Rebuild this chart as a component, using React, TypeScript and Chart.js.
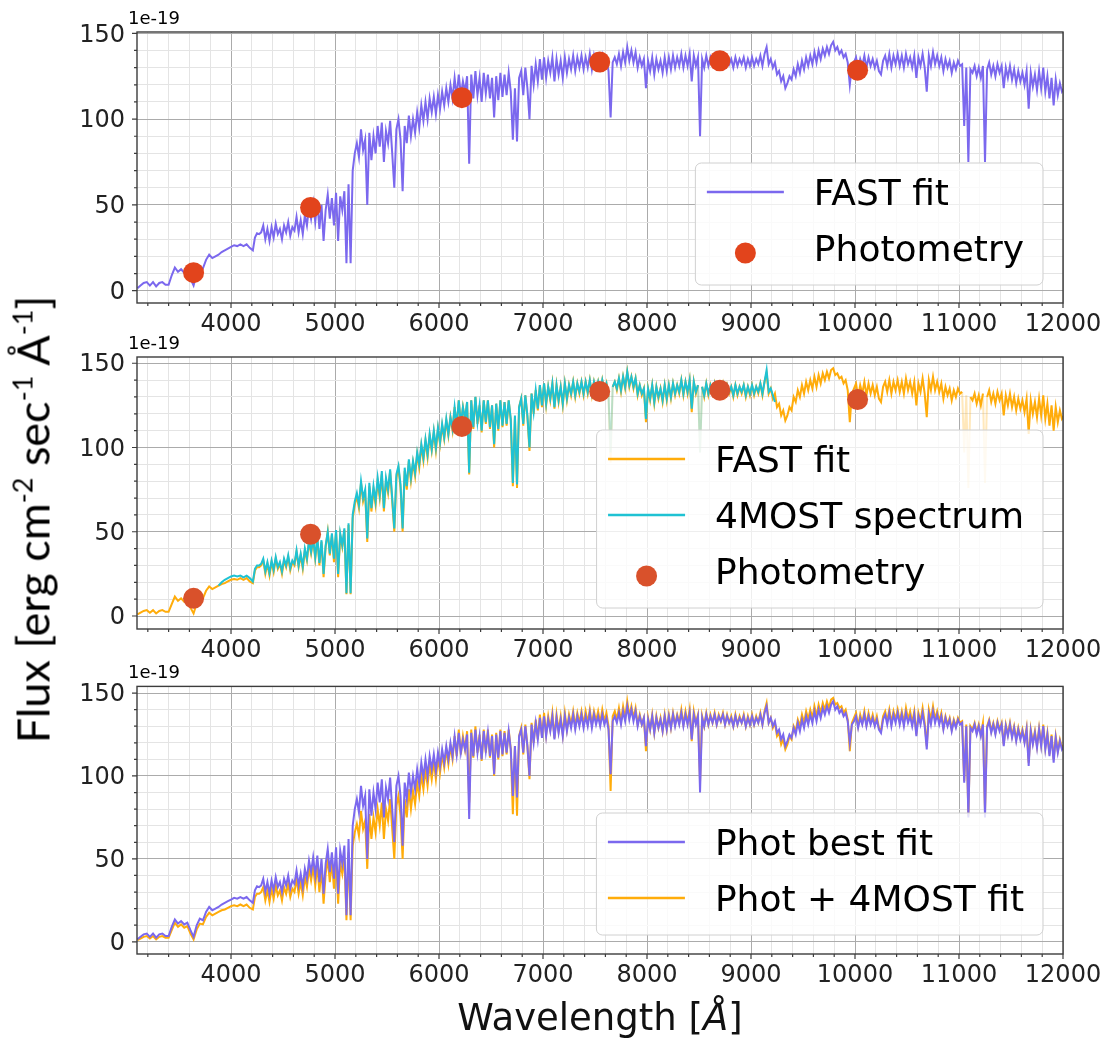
import { useEffect, useRef } from 'react';
import { Chart, registerables } from 'chart.js';

Chart.register(...registerables);

// ---------------- data ----------------
// wavelength grid in Angstrom (30 A steps in the smooth blue part, 20 A beyond)
const WAVELENGTH = [
  3100, 3130, 3160, 3190, 3220, 3250, 3280, 3310, 3340, 3370,
  3400, 3430, 3460, 3490, 3520, 3550, 3580, 3610, 3640, 3670,
  3700, 3730, 3760, 3790, 3820, 3850, 3880, 3910, 3940, 3970,
  4000, 4030, 4060, 4090, 4120, 4150, 4180,
  4210, 4230, 4250, 4270, 4290, 4310, 4330, 4350, 4370, 4390,
  4410, 4430, 4450, 4470, 4490, 4510, 4530, 4550, 4570, 4590,
  4610, 4630, 4650, 4670, 4690, 4710, 4730, 4750, 4770, 4790,
  4810, 4830, 4850, 4870, 4890, 4910, 4930, 4950, 4970, 4990,
  5010, 5030, 5050, 5070, 5090, 5110, 5130, 5150, 5170, 5190,
  5210, 5230, 5250, 5270, 5290, 5310, 5330, 5350, 5370, 5390,
  5410, 5430, 5450, 5470, 5490, 5510, 5530, 5550, 5570, 5590,
  5610, 5630, 5650, 5670, 5690, 5710, 5730, 5750, 5770, 5790,
  5810, 5830, 5850, 5870, 5890, 5910, 5930, 5950, 5970, 5990,
  6010, 6030, 6050, 6070, 6090, 6110, 6130, 6150, 6170, 6190,
  6210, 6230, 6250, 6270, 6290, 6310, 6330, 6350, 6370, 6390,
  6410, 6430, 6450, 6470, 6490, 6510, 6530, 6550, 6570, 6590,
  6610, 6630, 6650, 6670, 6690, 6710, 6730, 6750, 6770, 6790,
  6810, 6830, 6850, 6870, 6890, 6910, 6930, 6950, 6970, 6990,
  7010, 7030, 7050, 7070, 7090, 7110, 7130, 7150, 7170, 7190,
  7210, 7230, 7250, 7270, 7290, 7310, 7330, 7350, 7370, 7390,
  7410, 7430, 7450, 7470, 7490, 7510, 7530, 7550, 7570, 7590,
  7610, 7630, 7650, 7670, 7690, 7710, 7730, 7750, 7770, 7790,
  7810, 7830, 7850, 7870, 7890, 7910, 7930, 7950, 7970, 7990,
  8010, 8030, 8050, 8070, 8090, 8110, 8130, 8150, 8170, 8190,
  8210, 8230, 8250, 8270, 8290, 8310, 8330, 8350, 8370, 8390,
  8410, 8430, 8450, 8470, 8490, 8510, 8530, 8550, 8570, 8590,
  8610, 8630, 8650, 8670, 8690, 8710, 8730, 8750, 8770, 8790,
  8810, 8830, 8850, 8870, 8890, 8910, 8930, 8950, 8970, 8990,
  9010, 9030, 9050, 9070, 9090, 9110, 9130, 9150, 9170, 9190,
  9210, 9230, 9250, 9270, 9290, 9310, 9330, 9350, 9370, 9390,
  9410, 9430, 9450, 9470, 9490, 9510, 9530, 9550, 9570, 9590,
  9610, 9630, 9650, 9670, 9690, 9710, 9730, 9750, 9770, 9790,
  9810, 9830, 9850, 9870, 9890, 9910, 9930, 9950, 9970, 9990,
  10010, 10030, 10050, 10070, 10090, 10110, 10130, 10150, 10170, 10190,
  10210, 10230, 10250, 10270, 10290, 10310, 10330, 10350, 10370, 10390,
  10410, 10430, 10450, 10470, 10490, 10510, 10530, 10550, 10570, 10590,
  10610, 10630, 10650, 10670, 10690, 10710, 10730, 10750, 10770, 10790,
  10810, 10830, 10850, 10870, 10890, 10910, 10930, 10950, 10970, 10990,
  11010, 11030, 11050, 11070, 11090, 11110, 11130, 11150, 11170, 11190,
  11210, 11230, 11250, 11270, 11290, 11310, 11330, 11350, 11370, 11390,
  11410, 11430, 11450, 11470, 11490, 11510, 11530, 11550, 11570, 11590,
  11610, 11630, 11650, 11670, 11690, 11710, 11730, 11750, 11770, 11790,
  11810, 11830, 11850, 11870, 11890, 11910, 11930, 11950, 11970, 11990,
  12010,
];

// FAST fit to photometry only (purple), units of 1e-19
const PHOT_BEST_FIT = [
  1.5, 3, 4.5, 5, 3, 5, 2.5, 4.5, 5, 3.5,
  3.5, 9, 13.5, 11, 12.5, 10.5, 11.5, 7, 3, 10,
  14, 13, 18, 21, 19, 20, 21, 22.5, 23.5, 24.5,
  25.5, 26.5, 26, 27, 26, 27, 25,
  23.5, 31, 33.5, 33, 34, 38, 30, 36, 29, 37,
  31, 39, 33, 36, 30, 38, 34, 40, 32, 37,
  35, 43, 34, 41, 33, 44, 38, 49, 42, 51,
  40, 52, 36, 50, 29, 47, 56, 42, 54, 38,
  57, 29, 55, 47, 58, 16, 62, 16, 70, 80,
  86, 78, 94, 82, 88, 50, 92, 76, 90, 80,
  96, 84, 98, 75, 93, 86, 99, 80, 60, 94,
  100, 88, 58, 96, 86, 102, 90, 100, 92, 104,
  95, 108, 99, 110, 100, 112, 104, 113, 103, 114,
  106, 116, 108, 118, 110, 120, 112, 124, 113, 126,
  114, 122, 116, 125, 74, 126, 112, 128, 114, 124,
  110, 127, 115, 126, 112, 124, 101, 125, 111, 127,
  113, 126, 114, 127, 116, 88, 118, 87, 124, 128,
  114, 130, 118, 100, 131, 120, 132, 122, 135, 123,
  136, 124, 134, 127, 136, 122, 135, 126, 134, 124,
  136, 127, 135, 129, 137, 128, 136, 130, 137, 129,
  136, 130, 138, 129, 137, 131, 136, 130, 137, 131,
  135, 128, 101, 133, 136, 132, 138, 131, 139, 133,
  142, 134, 140, 133, 139, 130, 136, 131, 135, 118,
  134, 128, 136, 126, 135, 129, 134, 127, 136, 128,
  136, 129, 137, 130, 136, 131, 138, 130, 137, 131,
  138, 122, 137, 131, 136, 90, 135, 130, 137, 131,
  136, 132, 137, 131, 136, 133, 137, 131, 136, 132,
  135, 130, 136, 131, 135, 132, 136, 130, 135, 131,
  136, 131, 135, 132, 137, 131, 138, 142, 132, 135,
  130, 133, 126, 128, 122, 125, 118, 121, 125, 123,
  129, 125, 132, 127, 134, 129, 136, 131, 137, 132,
  139, 133, 140, 135, 141, 137, 142, 138, 143, 145,
  140, 142, 138, 140, 136, 138, 133, 120, 131, 133,
  136, 129, 135, 131, 137, 130, 136, 131, 135, 130,
  134, 128, 126, 134, 137, 131, 138, 130, 137, 132,
  138, 131, 137, 130, 138, 132, 136, 130, 137, 124,
  136, 131, 138, 130, 116, 137, 131, 139, 132, 137,
  131, 136, 128, 135, 130, 134, 127, 133, 129, 134,
  131, 132, 96, 130, 75, 129, 127, 131, 125, 130,
  124, 131, 75, 129, 133, 126, 131, 125, 132, 127,
  131, 118, 130, 124, 131, 123, 129, 121, 128, 122,
  127, 120, 128, 106, 127, 119, 126, 117, 128, 118,
  130, 116, 125, 112, 124, 108, 123, 114, 121, 116,
  118,
];

// FAST fit to photometry + 4MOST spectrum (orange)
const PHOT_4MOST_FIT = [
  1, 2, 3, 3.5, 2, 3.5, 1.5, 3, 3.5, 2.5,
  2.5, 7, 11.5, 9, 10.5, 8.5, 9.5, 5, 1.5, 7.5,
  11, 10.5, 15, 17.5, 16, 17, 18, 19, 19.5, 20.5,
  21.5, 22, 21.5, 22.5, 21.5, 22.5, 20.5,
  19.5, 27, 29, 29, 30, 33, 25, 31, 24, 32,
  26, 34, 28, 31, 25, 33, 29, 35, 27, 32,
  30, 38, 29, 36, 28, 39, 33, 44, 37, 45,
  34, 46, 30, 44, 23, 41, 50, 36, 48, 32,
  50, 23, 48, 41, 51, 13, 54, 13, 58, 66,
  71, 64, 79, 68, 73, 44, 77, 62, 75, 66,
  80, 70, 84, 62, 80, 73, 86, 68, 50, 82,
  88, 76, 50, 86, 75, 92, 80, 91, 83, 96,
  88, 101, 92, 104, 94, 107, 98, 109, 98, 111,
  102, 113, 105, 116, 107, 118, 110, 124, 112, 128,
  113, 124, 116, 127, 84, 128, 111, 130, 114, 125,
  109, 128, 114, 128, 111, 125, 100, 126, 110, 128,
  112, 127, 113, 128, 116, 77, 118, 76, 124, 129,
  113, 131, 118, 98, 132, 120, 134, 122, 137, 124,
  138, 125, 136, 128, 138, 123, 137, 127, 136, 125,
  138, 128, 137, 131, 139, 130, 138, 132, 139, 131,
  139, 132, 140, 131, 139, 133, 139, 132, 140, 133,
  138, 130, 91, 136, 139, 134, 141, 133, 142, 135,
  145, 136, 142, 135, 141, 131, 137, 131, 135, 115,
  135, 128, 137, 126, 136, 129, 135, 127, 137, 128,
  137, 129, 138, 131, 137, 132, 140, 131, 139, 132,
  140, 121, 139, 132, 137, 97, 136, 130, 138, 131,
  137, 132, 138, 131, 137, 133, 138, 131, 137, 132,
  136, 130, 137, 131, 136, 132, 137, 130, 136, 131,
  137, 131, 136, 132, 138, 131, 139, 144, 132, 135,
  129, 132, 124, 126, 119, 122, 116, 119, 124, 122,
  130, 127, 134, 130, 137, 132, 139, 134, 140, 135,
  142, 136, 143, 138, 144, 140, 145, 141, 146, 147,
  143, 144, 141, 142, 138, 140, 134, 115, 132, 135,
  138, 130, 137, 132, 139, 131, 138, 132, 137, 131,
  136, 129, 127, 136, 139, 133, 140, 132, 139, 134,
  140, 133, 139, 132, 141, 134, 139, 132, 139, 125,
  138, 133, 141, 132, 118, 140, 134, 142, 134, 139,
  133, 138, 129, 136, 131, 135, 128, 134, 130, 135,
  132, 133, 97, 131, 76, 130, 128, 132, 126, 131,
  125, 132, 79, 130, 134, 127, 132, 126, 133, 128,
  132, 119, 131, 125, 132, 124, 130, 122, 129, 123,
  128, 121, 129, 108, 128, 120, 127, 118, 129, 119,
  131, 117, 126, 113, 125, 110, 124, 115, 122, 117,
  119,
];

// 4MOST spectrum (cyan), sampled on WAVELENGTH from SPEC_4MOST_START onwards
const SPEC_4MOST_START = 3880;
const SPEC_4MOST = [
  18, 20, 21.5, 22.5, 23.5, 24, 23.5, 24, 23, 24, 22.5,
  20.5, 28, 30, 30, 31, 34, 26.5, 32, 25.5, 33,
  27.5, 35, 29, 32, 26.5, 34, 30, 36, 28.5, 33,
  31, 39, 30, 37, 29.5, 40, 34, 45, 38, 46,
  35, 47, 31.5, 45, 25, 42, 50, 37, 49, 34,
  51, 25, 49, 42, 52, 13.5, 55, 13.5, 60, 68,
  73, 66, 80, 70, 75, 46, 79, 64, 77, 68,
  82, 72, 86, 64, 82, 75, 87, 70, 52, 84,
  89, 78, 52, 88, 77, 93, 82, 92, 85, 97,
  90, 102, 94, 105, 96, 108, 99, 110, 100, 112,
  103, 114, 106, 117, 108, 118, 111, 124, 113, 128,
  114, 124, 117, 127, 85, 128, 112, 130, 115, 125,
  110, 128, 115, 128, 112, 125, 102, 126, 111, 128,
  113, 127, 114, 128, 117, 79, 119, 78, 124, 129,
  114, 131, 119, 100, 132, 121, 134, 123, 137, 125,
  138, 126, 136, 129, 138, 124, 137, 128, 136, 126,
  138, 129, 137, 132, 139, 131, 138, 133, 139, 132,
  139, 133, 140, 132, 139, 134, 139, 133, 140, 134,
  138, 131, 97, 136, 139, 135, 141, 134, 142, 136,
  145, 137, 142, 136, 141, 132, 137, 132, 135, 117,
  135, 129, 137, 127, 136, 130, 135, 128, 137, 129,
  137, 130, 138, 132, 137, 133, 140, 132, 139, 133,
  140, 123, 139, 133, 137, 97, 136, 131, 138, 132,
  137, 133, 138, 132, 137, 134, 138, 132, 137, 133,
  136, 131, 137, 132, 136, 133, 137, 131, 136, 132,
  137, 132, 136, 133, 138, 132, 139, 146, 133, 135,
  131, 127,
];

const PHOT_WAVELENGTH = [3640, 4765, 6220, 7545, 8700, 10025];
const PHOT_FLUX = [10.5, 48.5, 112.5, 133.3, 134, 128.5];

const X_MAJOR_TICKS = [4000, 5000, 6000, 7000, 8000, 9000, 10000, 11000, 12000];
const Y_MAJOR_TICKS = [0, 50, 100, 150];
const X_MINOR_STEP = 200;
const Y_MINOR_STEP = 10;
const X_RANGE = [3096, 12000];
const OFFSET_LABEL = '1e-19';

const X_LABEL = 'Wavelength';
const LEGEND_1 = ['FAST fit', 'Photometry'];
const LEGEND_2 = ['FAST fit', '4MOST spectrum', 'Photometry'];
const LEGEND_3 = ['Phot best fit', 'Phot + 4MOST fit'];

// ---------------- styles ----------------
const FONT = '"DejaVu Sans", sans-serif';
const C_PURPLE = '#7B68EE';
const C_ORANGE = '#FFAC0A';
const C_ORANGE_FAINT = 'rgba(255,172,10,0.28)';
const C_CYAN = '#1FC2D3';
const C_CYAN_FAINT = 'rgba(31,194,211,0.3)';
const C_PHOT1 = '#E2441C';
const C_PHOT2 = '#D9512B';
const GRID_MAJOR = '#ababab';
const GRID_MINOR = '#e4e4e4';
const SPINE = '#3c3c3c';

function range(a: number, b: number, step: number) {
  const out: number[] = [];
  for (let v = a; v <= b + 1e-9; v += step) out.push(v);
  return out;
}
const X_TICKS = range(3200, 12000, X_MINOR_STEP);
const Y_TICKS = range(0, 150, Y_MINOR_STEP);

function pairs(xs: number[], ys: number[]) {
  return ys.map((y, i) => ({ x: xs[i], y }));
}

function roundRect(ctx: CanvasRenderingContext2D, x: number, y: number, w: number, h: number, r: number) {
  ctx.beginPath();
  ctx.moveTo(x + r, y);
  ctx.lineTo(x + w - r, y);
  ctx.arcTo(x + w, y, x + w, y + r, r);
  ctx.lineTo(x + w, y + h - r);
  ctx.arcTo(x + w, y + h, x + w - r, y + h, r);
  ctx.lineTo(x + r, y + h);
  ctx.arcTo(x, y + h, x, y + h - r, r);
  ctx.lineTo(x, y + r);
  ctx.arcTo(x, y, x + r, y, r);
  ctx.closePath();
}

const mplDecor = {
  id: 'mplDecor',
  afterDraw(chart: any, _args: any, opts: any) {
    const { ctx, chartArea: a, scales } = chart;
    ctx.save();
    // tick marks
    ctx.strokeStyle = SPINE;
    ctx.lineWidth = 1.2;
    ctx.beginPath();
    for (const v of X_TICKS) {
      const px = scales.x.getPixelForValue(v);
      const len = X_MAJOR_TICKS.includes(v) ? 5 : 3;
      ctx.moveTo(px, a.bottom);
      ctx.lineTo(px, a.bottom + len);
    }
    for (const v of Y_TICKS) {
      const py = scales.y.getPixelForValue(v);
      const len = Y_MAJOR_TICKS.includes(v) ? 5 : 3;
      ctx.moveTo(a.left - len, py);
      ctx.lineTo(a.left, py);
    }
    ctx.stroke();
    // frame
    ctx.lineWidth = 1.4;
    ctx.strokeRect(a.left, a.top, a.right - a.left, a.bottom - a.top);
    // offset text
    ctx.fillStyle = '#000';
    ctx.font = `18px ${FONT}`;
    ctx.textAlign = 'left';
    ctx.textBaseline = 'alphabetic';
    ctx.fillText(OFFSET_LABEL, a.left - 9, a.top - 8.5);

    // legend
    const entries = opts.entries as { label: string; kind: string; color: string }[];
    ctx.font = `36px ${FONT}`;
    const textW = Math.max(...entries.map((e) => ctx.measureText(e.label).width));
    const padL = 11.5, handleW = 77, gap = 30, padR = 19;
    const topPad = 29, rowH = 56, bottomPad = 37;
    const w = padL + handleW + gap + textW + padR;
    const h = topPad + (entries.length - 1) * rowH + bottomPad;
    const right = a.right - 20;
    const bottom = a.bottom - opts.bottomGap;
    const left = right - w;
    const top = bottom - h;
    roundRect(ctx, left, top, w, h, 6);
    ctx.fillStyle = 'rgba(255,255,255,0.8)';
    ctx.fill();
    ctx.strokeStyle = '#d0d0d0';
    ctx.lineWidth = 1;
    ctx.stroke();
    entries.forEach((e, i) => {
      const cy = top + topPad + i * rowH;
      const hx = left + padL;
      if (e.kind === 'line') {
        ctx.strokeStyle = e.color;
        ctx.lineWidth = 2.5;
        ctx.beginPath();
        ctx.moveTo(hx, cy);
        ctx.lineTo(hx + handleW, cy);
        ctx.stroke();
      } else {
        ctx.fillStyle = e.color;
        ctx.beginPath();
        ctx.arc(hx + handleW / 2, cy + 5, 10.5, 0, Math.PI * 2);
        ctx.fill();
      }
      ctx.fillStyle = '#000';
      ctx.textBaseline = 'alphabetic';
      ctx.fillText(e.label, hx + handleW + gap, cy + 13.2);
    });
    ctx.restore();
  },
};

function lineDs(label: string, data: any[], color: string, faint?: string) {
  const ds: any = {
    label,
    data,
    borderColor: color,
    borderWidth: 2,
    pointRadius: 0,
    pointHoverRadius: 0,
    tension: 0,
    fill: false,
  };
  if (faint) {
    ds.segment = {
      borderColor: (c: any) =>
        c.p0.parsed.x > 7500 && Math.min(c.p0.parsed.y, c.p1.parsed.y) < 105 ? faint : color,
    };
  }
  return ds;
}

function photDs(color: string) {
  return {
    label: 'Photometry',
    data: pairs(PHOT_WAVELENGTH, PHOT_FLUX),
    showLine: false,
    pointRadius: 10.5,
    pointHoverRadius: 10.5,
    pointBackgroundColor: color,
    pointBorderColor: color,
    pointBorderWidth: 0,
    borderColor: color,
    backgroundColor: color,
  };
}

export default function App() {
  const refs = useRef<(HTMLCanvasElement | null)[]>([]);

  const specStartIdx = WAVELENGTH.indexOf(SPEC_4MOST_START);
  const specWave = WAVELENGTH.slice(specStartIdx, specStartIdx + SPEC_4MOST.length);

  const panels = [
    {
      canvasTop: 0, canvasHeight: 345, padTop: 32, xAxisHeight: 42, yMin: -7.17, yMax: 150.76,
      bottomGap: 18,
      datasets: () => [photDs(C_PHOT1), lineDs(LEGEND_1[0], pairs(WAVELENGTH, PHOT_BEST_FIT), C_PURPLE)],
      legend: [
        { label: LEGEND_1[0], kind: 'line', color: C_PURPLE },
        { label: LEGEND_1[1], kind: 'marker', color: C_PHOT1 },
      ],
    },
    {
      canvasTop: 330, canvasHeight: 345, padTop: 27, xAxisHeight: 46, yMin: -7.7, yMax: 153.7,
      bottomGap: 21,
      datasets: () => [
        photDs(C_PHOT2),
        lineDs(LEGEND_2[1], pairs(specWave, SPEC_4MOST), C_CYAN, C_CYAN_FAINT),
        lineDs(LEGEND_2[0], pairs(WAVELENGTH, PHOT_4MOST_FIT), C_ORANGE, C_ORANGE_FAINT),
      ],
      legend: [
        { label: LEGEND_2[0], kind: 'line', color: C_ORANGE },
        { label: LEGEND_2[1], kind: 'line', color: C_CYAN },
        { label: LEGEND_2[2], kind: 'marker', color: C_PHOT2 },
      ],
    },
    {
      canvasTop: 660, canvasHeight: 340, padTop: 24, xAxisHeight: 46, yMin: -7.35, yMax: 154,
      bottomGap: 19,
      datasets: () => [
        lineDs(LEGEND_3[0], pairs(WAVELENGTH, PHOT_BEST_FIT), C_PURPLE),
        lineDs(LEGEND_3[1], pairs(WAVELENGTH, PHOT_4MOST_FIT), C_ORANGE),
      ],
      legend: [
        { label: LEGEND_3[0], kind: 'line', color: C_PURPLE },
        { label: LEGEND_3[1], kind: 'line', color: C_ORANGE },
      ],
    },
  ];

  useEffect(() => {
    const charts: Chart[] = [];
    panels.forEach((p, i) => {
      const canvas = refs.current[i];
      if (!canvas) return;
      const chart = new Chart(canvas, {
        type: 'line',
        data: { datasets: p.datasets() as any },
        plugins: [mplDecor as any],
        options: {
          animation: false,
          responsive: false,
          events: [],
          layout: { padding: { top: p.padTop, right: 51, left: 0, bottom: 0 } },
          plugins: {
            legend: { display: false },
            tooltip: { enabled: false },
            mplDecor: { entries: p.legend, bottomGap: p.bottomGap },
          } as any,
          scales: {
            x: {
              type: 'linear',
              min: X_RANGE[0],
              max: X_RANGE[1],
              afterBuildTicks: (s: any) => {
                s.ticks = X_TICKS.map((v) => ({ value: v }));
              },
              afterFit: (s: any) => {
                s.height = p.xAxisHeight;
              },
              grid: {
                drawTicks: false,
                color: (c: any) => (X_MAJOR_TICKS.includes(c.tick?.value) ? GRID_MAJOR : GRID_MINOR),
                lineWidth: 1,
              },
              border: { display: false },
              ticks: {
                autoSkip: false,
                maxRotation: 0,
                padding: 7,
                color: '#222',
                font: { family: FONT, size: 24 },
                callback: (v: any) => (X_MAJOR_TICKS.includes(v) ? String(v) : ''),
              },
            },
            y: {
              type: 'linear',
              min: p.yMin,
              max: p.yMax,
              afterBuildTicks: (s: any) => {
                s.ticks = Y_TICKS.map((v) => ({ value: v }));
              },
              afterFit: (s: any) => {
                s.width = 137;
              },
              grid: {
                drawTicks: false,
                color: (c: any) => (Y_MAJOR_TICKS.includes(c.tick?.value) ? GRID_MAJOR : GRID_MINOR),
                lineWidth: 1,
              },
              border: { display: false },
              ticks: {
                autoSkip: false,
                padding: 12,
                labelOffset: 2,
                color: '#222',
                font: { family: FONT, size: 24 },
                callback: (v: any) => (Y_MAJOR_TICKS.includes(v) ? String(v) : ''),
              },
            },
          },
        } as any,
      });
      charts.push(chart);
    });
    return () => charts.forEach((c) => c.destroy());
  }, []);

  const sup: any = { fontSize: '0.6em', verticalAlign: 'baseline', position: 'relative', top: '-0.63em' };

  return (
    <div style={{ position: 'absolute', left: 0, top: 0, width: 1114, height: 1045, background: '#fff', overflow: 'hidden' }}>
      {panels.map((p, i) => (
        <canvas
          key={i}
          ref={(el) => {
            refs.current[i] = el;
          }}
          width={1114}
          height={p.canvasHeight}
          style={{ position: 'absolute', left: 0, top: p.canvasTop, width: 1114, height: p.canvasHeight }}
        />
      ))}
      <div
        style={{
          position: 'absolute',
          left: 33 - 400,
          top: 519 - 22.5,
          width: 800,
          height: 45,
          lineHeight: '45px',
          textAlign: 'center',
          whiteSpace: 'nowrap',
          transform: 'rotate(-90deg)',
          transformOrigin: '50% 50%',
          fontFamily: 'Lato, sans-serif',
          fontSize: 45,
          color: '#000',
        }}
      >
        Flux [erg cm<span style={sup}>-2</span> sec<span style={sup}>-1</span> Å<span style={sup}>-1</span>]
      </div>
      <div
        style={{
          position: 'absolute',
          left: 300,
          top: 998.7,
          width: 600,
          height: 37,
          lineHeight: '37px',
          textAlign: 'center',
          whiteSpace: 'nowrap',
          fontFamily: FONT,
          fontSize: 37,
          color: '#111',
        }}
      >
        {X_LABEL} [<i>Å</i>]
      </div>
    </div>
  );
}
